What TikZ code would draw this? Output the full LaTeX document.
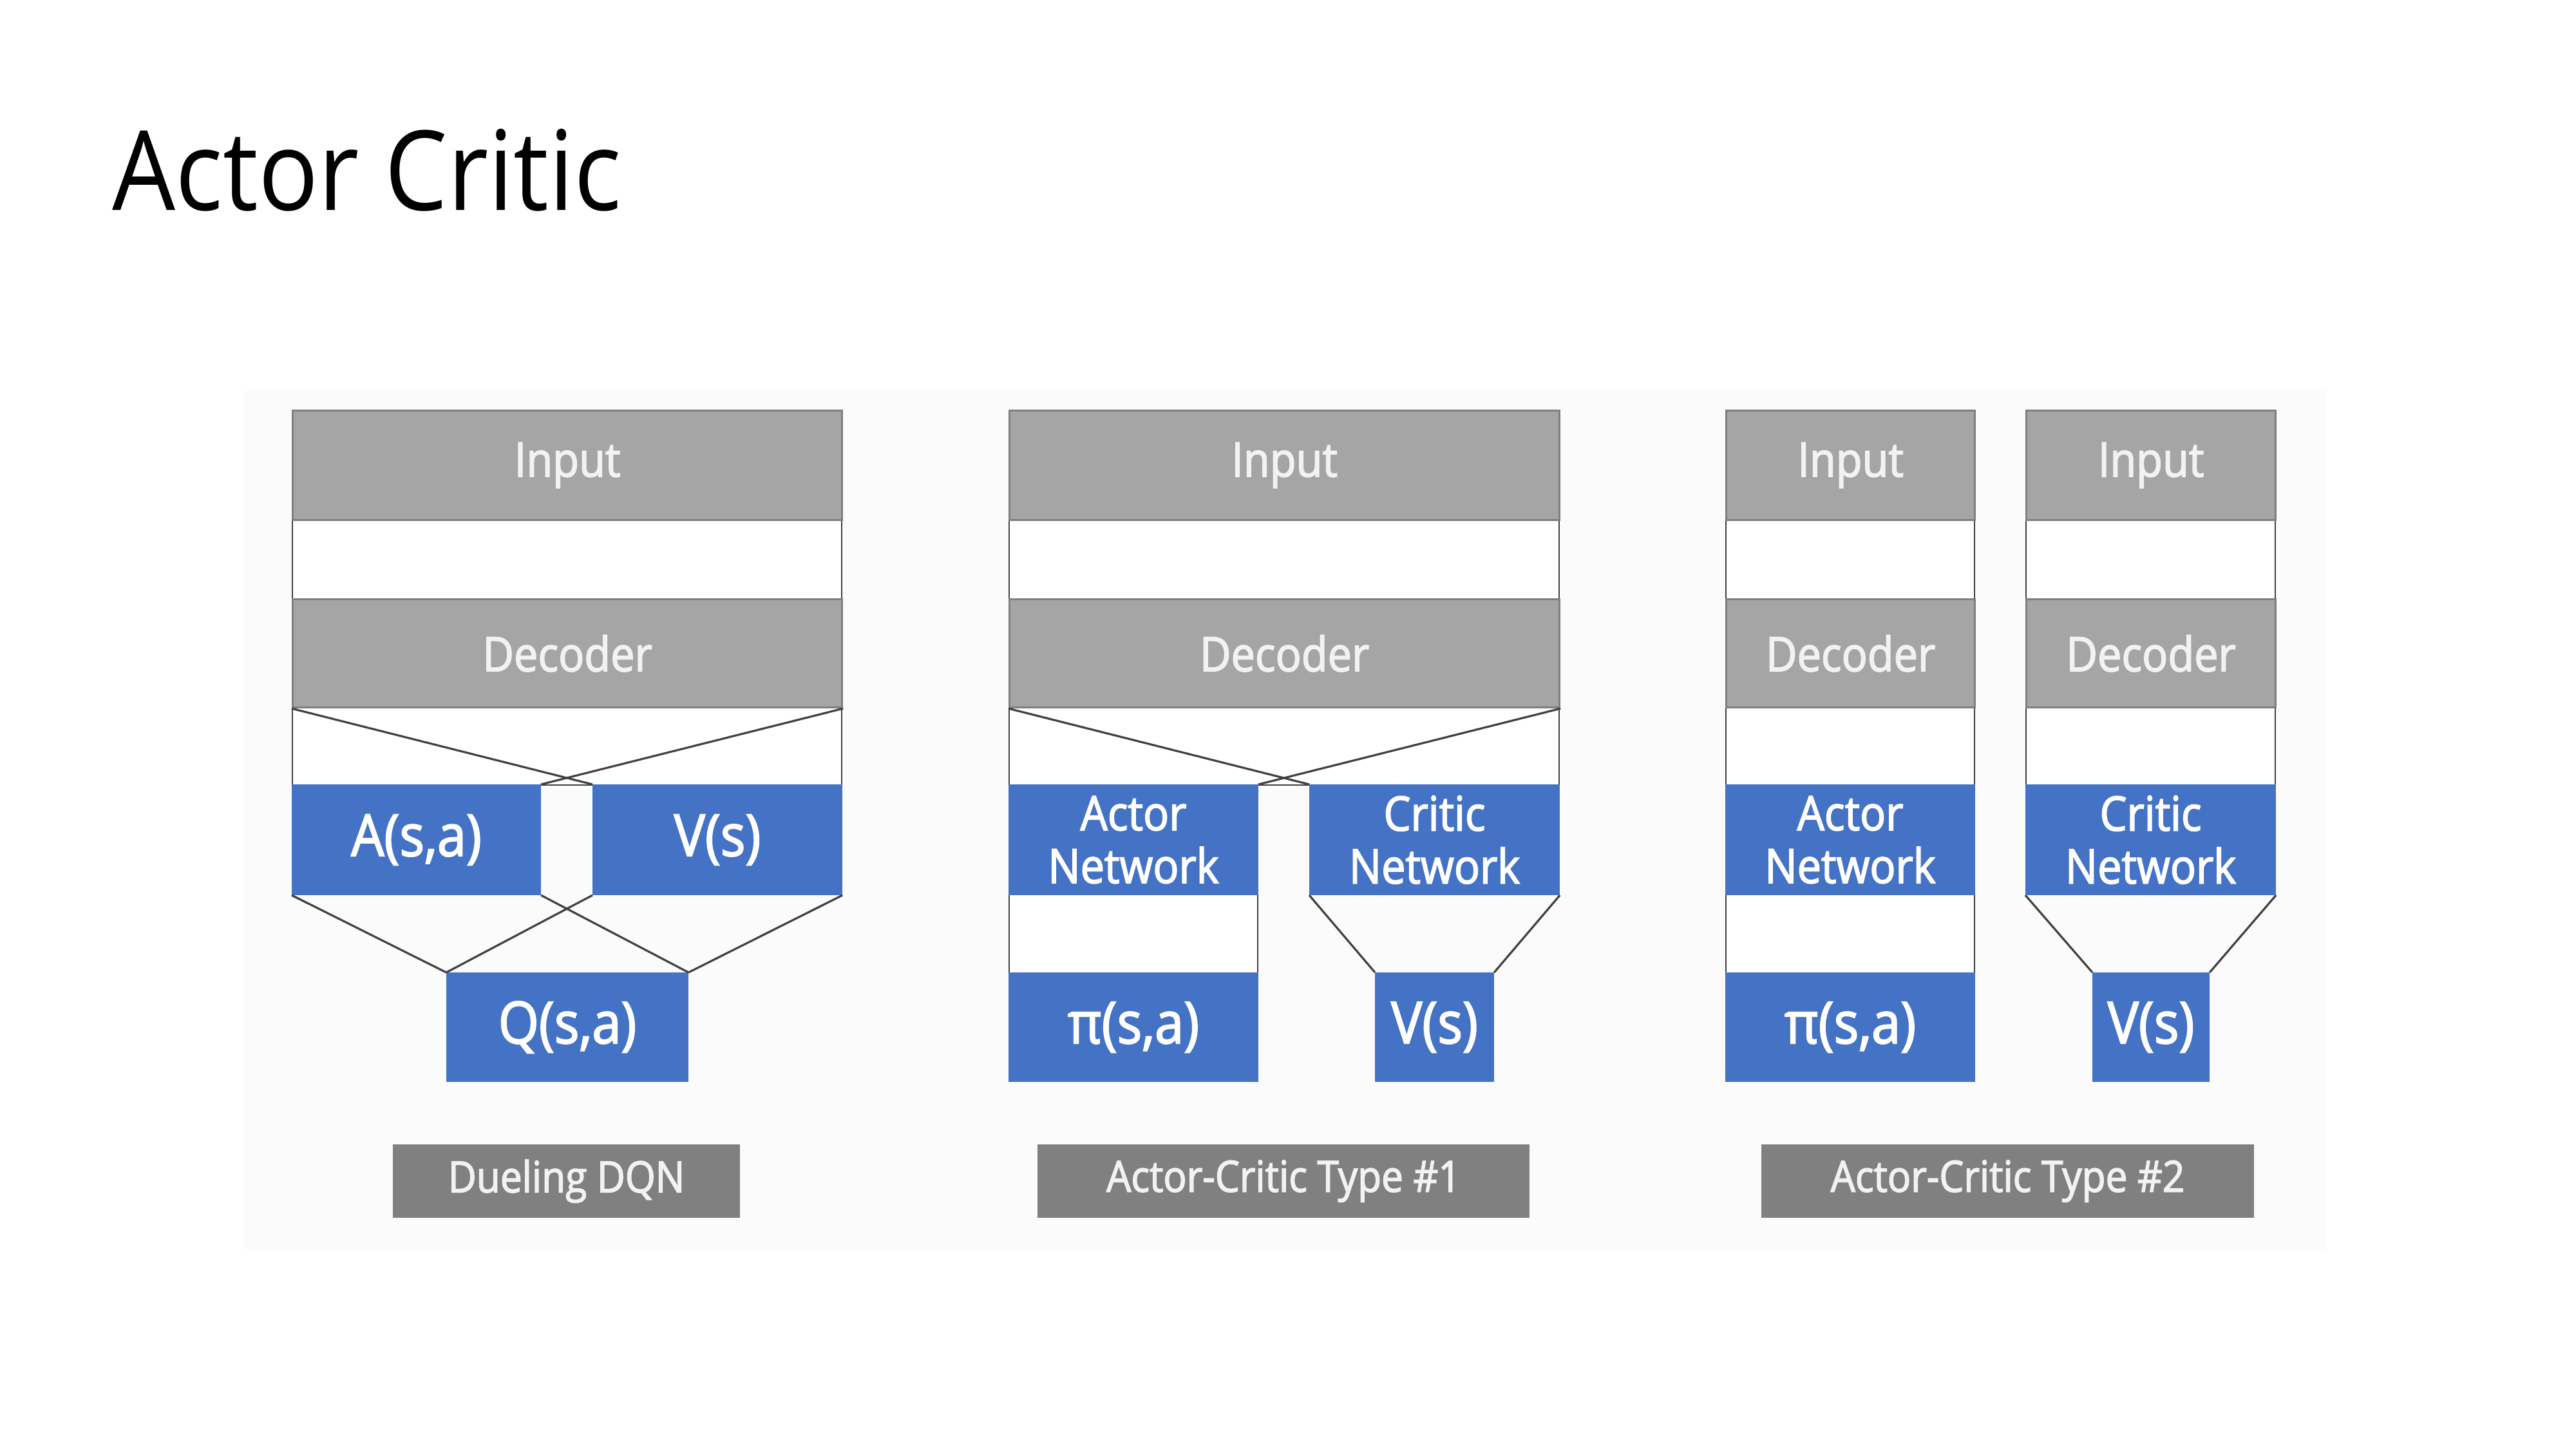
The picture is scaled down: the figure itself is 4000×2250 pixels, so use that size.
\documentclass[tikz,border=0pt]{standalone}
\usepackage{fontspec}
\setmainfont{Open Sans}[FakeStretch=0.9]
\newfontfamily\boxfamily{Open Sans}[FakeStretch=0.9, FakeBold=2.2]
\definecolor{boxgray}{HTML}{A5A5A5}
\definecolor{edgegray}{HTML}{7F7F7F}
\definecolor{labgray}{HTML}{808080}
\definecolor{netblue}{HTML}{4472C4}
\definecolor{linegray}{HTML}{404040}
\definecolor{txtwhite}{HTML}{F2F2F2}
\definecolor{panelbg}{HTML}{FBFBFB}
\newcommand{\titlefnt}{\fontsize{17.2mm}{19mm}\selectfont}
\newcommand{\boxfnt}{\boxfamily\fontsize{7.4mm}{8.2mm}\selectfont}
\newcommand{\bigfnt}{\boxfamily\fontsize{9mm}{10mm}\selectfont}
\newcommand{\labfnt}{\boxfamily\fontsize{6.7mm}{7.5mm}\selectfont}
\tikzset{
  graybox/.style={fill=boxgray, draw=edgegray, line width=0.9pt, inner sep=0pt, text=txtwhite, font=\boxfnt},
  gapbox/.style={fill=white, draw=linegray, line width=0.6pt, inner sep=0pt},
  netbox/.style={fill=netblue, draw=netblue, line width=0.6pt, inner sep=0pt, text=white, align=center, font=\boxfnt},
  outbox/.style={fill=netblue, draw=netblue, line width=0.6pt, inner sep=0pt, text=white, font=\bigfnt},
  labbox/.style={fill=labgray, draw=labgray, line width=0.6pt, inner sep=0pt, text=txtwhite, font=\labfnt},
  link/.style={draw=linegray, line width=0.9pt},
}
% box: style, name, x1, y1, x2, y2 (pixels, y downwards), text
\newcommand{\bx}[7]{\node[#1, anchor=north west, minimum width={(#5-#3)*0.1mm}, minimum height={(#6-#4)*0.1mm}] (#2) at (#3,#4) {#7};}
\begin{document}
\begin{tikzpicture}[x=0.1mm, y=-0.1mm]
\fill[white] (0,0) rectangle (4000,2250);
\path[use as bounding box] (0,0) rectangle (4000,2250);
\fill[panelbg] (378,607) rectangle (3612,1940);

\node[anchor=base west, inner sep=0pt, font=\titlefnt, text=black] (title) at (174,327) {Actor Critic};

% ---------------- Dueling DQN ----------------
\bx{gapbox}{d-g1}{453}{806}{1306}{929}{}
\bx{gapbox}{d-g2}{453}{1097}{1306}{1218}{}
\bx{graybox}{d-in}{453}{636}{1306}{806}{Input}
\bx{graybox}{d-dec}{453}{929}{1306}{1097}{Decoder}
\bx{outbox}{d-a}{453}{1218}{838}{1388}{A(s,a)}
\bx{outbox}{d-v}{920}{1218}{1306}{1388}{V(s)}
\bx{outbox}{d-q}{693}{1510}{1067}{1678}{Q(s,a)}
\bx{labbox}{d-lab}{610}{1777}{1147}{1889}{Dueling DQN}
\draw[link] (d-dec.south west) -- (d-v.north west);
\draw[link] (d-dec.south east) -- (d-a.north east);
\draw[link] (d-a.south west) -- (d-q.north west);
\draw[link] (d-a.south east) -- (d-q.north east);
\draw[link] (d-v.south west) -- (d-q.north west);
\draw[link] (d-v.south east) -- (d-q.north east);

% ---------------- Actor-Critic Type #1 ----------------
\bx{gapbox}{a-g1}{1566}{806}{2420}{929}{}
\bx{gapbox}{a-g2}{1566}{1097}{2420}{1218}{}
\bx{gapbox}{a-g3}{1566}{1388}{1952}{1510}{}
\bx{graybox}{a-in}{1566}{636}{2420}{806}{Input}
\bx{graybox}{a-dec}{1566}{929}{2420}{1097}{Decoder}
\bx{netbox}{a-act}{1566}{1218}{1952}{1388}{Actor\\Network}
\bx{netbox}{a-cri}{2033}{1218}{2420}{1388}{Critic\\Network}
\bx{outbox}{a-pi}{1566}{1510}{1952}{1678}{π(s,a)}
\bx{outbox}{a-v}{2135}{1510}{2318}{1678}{V(s)}
\bx{labbox}{a-lab}{1611}{1777}{2373}{1889}{Actor-Critic Type \#1}
\draw[link] (a-dec.south west) -- (a-cri.north west);
\draw[link] (a-dec.south east) -- (a-act.north east);
\draw[link] (a-cri.south west) -- (a-v.north west);
\draw[link] (a-cri.south east) -- (a-v.north east);

% ---------------- Actor-Critic Type #2 ----------------
\bx{gapbox}{b-g1}{2679}{806}{3065}{929}{}
\bx{gapbox}{b-g2}{2679}{1097}{3065}{1218}{}
\bx{gapbox}{b-g3}{2679}{1388}{3065}{1510}{}
\bx{gapbox}{c-g1}{3145}{806}{3532}{929}{}
\bx{gapbox}{c-g2}{3145}{1097}{3532}{1218}{}
\bx{graybox}{b-in}{2679}{636}{3065}{806}{Input}
\bx{graybox}{b-dec}{2679}{929}{3065}{1097}{Decoder}
\bx{netbox}{b-act}{2679}{1218}{3065}{1388}{Actor\\Network}
\bx{outbox}{b-pi}{2679}{1510}{3065}{1678}{π(s,a)}
\bx{graybox}{c-in}{3145}{636}{3532}{806}{Input}
\bx{graybox}{c-dec}{3145}{929}{3532}{1097}{Decoder}
\bx{netbox}{c-cri}{3145}{1218}{3532}{1388}{Critic\\Network}
\bx{outbox}{c-v}{3249}{1510}{3429}{1678}{V(s)}
\bx{labbox}{b-lab}{2735}{1777}{3498}{1889}{Actor-Critic Type \#2}
\draw[link] (c-cri.south west) -- (c-v.north west);
\draw[link] (c-cri.south east) -- (c-v.north east);
\end{tikzpicture}
\end{document}
